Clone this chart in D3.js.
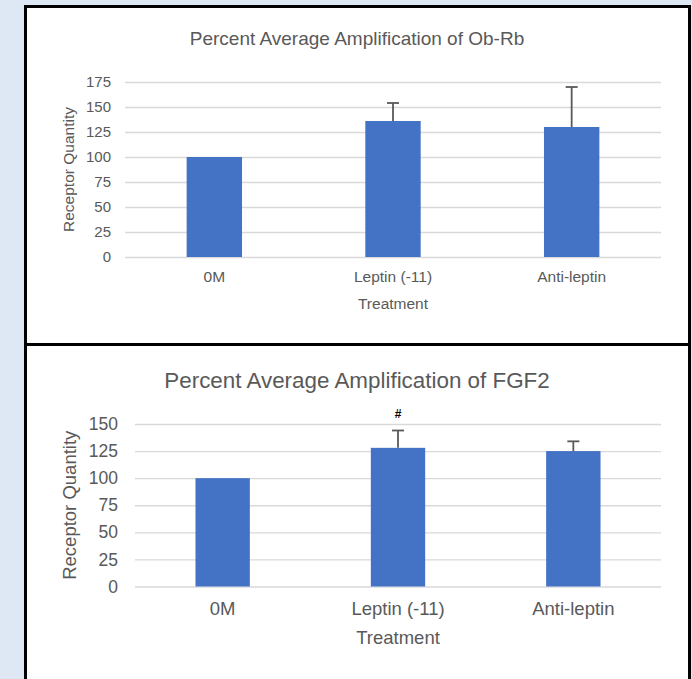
<!DOCTYPE html>
<html>
<head>
<meta charset="utf-8">
<script src="https://cdn.jsdelivr.net/npm/d3@7"></script>
<style>
  body { margin: 0; background: #dee8f4; }
  svg { display: block; font-family: "Liberation Sans", Arial, sans-serif; }
</style>
</head>
<body>
<svg id="chart"></svg>
<script>
const categories = ["0M", "Leptin (-11)", "Anti-leptin"];

// Ob-Rb chart
const obrbValues = [100, 136, 130];
const obrbErrors = [0, 18, 40];
const obrbTicks = [0, 25, 50, 75, 100, 125, 150, 175];

// FGF2 chart
const fgf2Values = [100, 128, 125];
const fgf2Errors = [0, 16, 9];
const fgf2Marks = ["", "#", ""];
const fgf2Ticks = [0, 25, 50, 75, 100, 125, 150];

const W = 692, H = 679;
const textColor = "#595959";
const barColor = "#4472c4";

const svg = d3.select("#chart").attr("width", W).attr("height", H);

svg.append("rect").attr("width", W).attr("height", H).attr("fill", "#dee8f4");

//panels
svg.append("rect")
    .attr("x", 25.5).attr("y", 6.5).attr("width", 664).attr("height", 338)
    .attr("fill", "white").attr("stroke", "black").attr("stroke-width", 3);
svg.append("rect")
    .attr("x", 25.5).attr("y", 344.5).attr("width", 664).attr("height", 345)
    .attr("fill", "white").attr("stroke", "black").attr("stroke-width", 3);

//draw one bar chart into the svg
function drawBars(opt) {
    const g = svg.append("g");

    const x = d3.scaleBand()
        .domain(categories)
        .range([opt.left, opt.right])
        .padding(0);

    const y = d3.scaleLinear()
        .domain([0, d3.max(opt.ticks)])
        .range([opt.bottom, opt.top]);

    const data = categories.map((c, i) => ({
        cat: c,
        value: opt.values[i],
        err: opt.errors[i],
        mark: opt.marks ? opt.marks[i] : ""
    }));

    //gridlines + tick labels
    const yAxis = g.append("g")
        .attr("transform", `translate(${opt.left},0)`)
        .call(d3.axisLeft(y)
            .tickValues(opt.ticks)
            .tickSize(-(opt.right - opt.left))
            .tickPadding(opt.tickPad)
        );
    yAxis.select(".domain").remove();
    yAxis.selectAll(".tick line").attr("stroke", "#d9d9d9").attr("stroke-width", 1.3);
    yAxis.selectAll(".tick text")
        .attr("fill", textColor)
        .style("font-size", opt.tickFont + "px");

    //bars
    const barW = x.bandwidth() * 0.31;
    g.selectAll("rect.bar")
        .data(data)
        .join("rect")
        .attr("class", "bar")
        .attr("x", d => x(d.cat) + x.bandwidth() / 2 - barW / 2)
        .attr("y", d => y(d.value))
        .attr("width", barW)
        .attr("height", d => y(0) - y(d.value))
        .attr("fill", barColor);

    //error bars (plus only)
    const errs = data.filter(d => d.err > 0);
    g.selectAll("line.err")
        .data(errs)
        .join("line")
        .attr("class", "err")
        .attr("x1", d => x(d.cat) + x.bandwidth() / 2)
        .attr("x2", d => x(d.cat) + x.bandwidth() / 2)
        .attr("y1", d => y(d.value))
        .attr("y2", d => y(d.value + d.err))
        .attr("stroke", "#595959")
        .attr("stroke-width", 1.8);
    g.selectAll("line.cap")
        .data(errs)
        .join("line")
        .attr("class", "cap")
        .attr("x1", d => x(d.cat) + x.bandwidth() / 2 - 6)
        .attr("x2", d => x(d.cat) + x.bandwidth() / 2 + 6)
        .attr("y1", d => y(d.value + d.err))
        .attr("y2", d => y(d.value + d.err))
        .attr("stroke", "#595959")
        .attr("stroke-width", 1.8);

    //significance marks
    g.selectAll("text.mark")
        .data(data.filter(d => d.mark))
        .join("text")
        .attr("class", "mark")
        .attr("x", d => x(d.cat) + x.bandwidth() / 2)
        .attr("y", d => y(d.value + d.err) - 13)
        .attr("text-anchor", "middle")
        .style("font-size", "12px")
        .style("font-weight", "bold")
        .attr("fill", "black")
        .text(d => d.mark);

    //category labels
    g.selectAll("text.cat")
        .data(categories)
        .join("text")
        .attr("class", "cat")
        .attr("x", d => x(d) + x.bandwidth() / 2)
        .attr("y", opt.catY)
        .attr("text-anchor", "middle")
        .attr("fill", textColor)
        .style("font-size", opt.labelFont + "px")
        .text(d => d);

    //axis titles
    g.append("text")
        .attr("x", (opt.left + opt.right) / 2)
        .attr("y", opt.xTitleY)
        .attr("text-anchor", "middle")
        .attr("fill", textColor)
        .style("font-size", opt.labelFont + "px")
        .text("Treatment");

    g.append("text")
        .attr("transform", `translate(${opt.yTitleX},${(opt.top + opt.bottom) / 2}) rotate(-90)`)
        .attr("text-anchor", "middle")
        .attr("fill", textColor)
        .style("font-size", opt.labelFont + "px")
        .text("Receptor Quantity");

    //chart title
    g.append("text")
        .attr("x", 357)
        .attr("y", opt.titleY)
        .attr("text-anchor", "middle")
        .attr("fill", textColor)
        .style("font-size", opt.titleFont + "px")
        .text(opt.title);
}

drawBars({
    title: "Percent Average Amplification of Ob-Rb",
    values: obrbValues, errors: obrbErrors, ticks: obrbTicks,
    left: 125, right: 661, top: 82, bottom: 257,
    tickPad: 14, tickFont: 15, labelFont: 15.5, titleFont: 19,
    catY: 282, xTitleY: 309, yTitleX: 74, titleY: 45
});

drawBars({
    title: "Percent Average Amplification of FGF2",
    values: fgf2Values, errors: fgf2Errors, marks: fgf2Marks, ticks: fgf2Ticks,
    left: 135, right: 661, top: 424, bottom: 586.5,
    tickPad: 17, tickFont: 17.5, labelFont: 18.5, titleFont: 22.4,
    catY: 615, xTitleY: 644, yTitleX: 76, titleY: 388
});
</script>
</body>
</html>
